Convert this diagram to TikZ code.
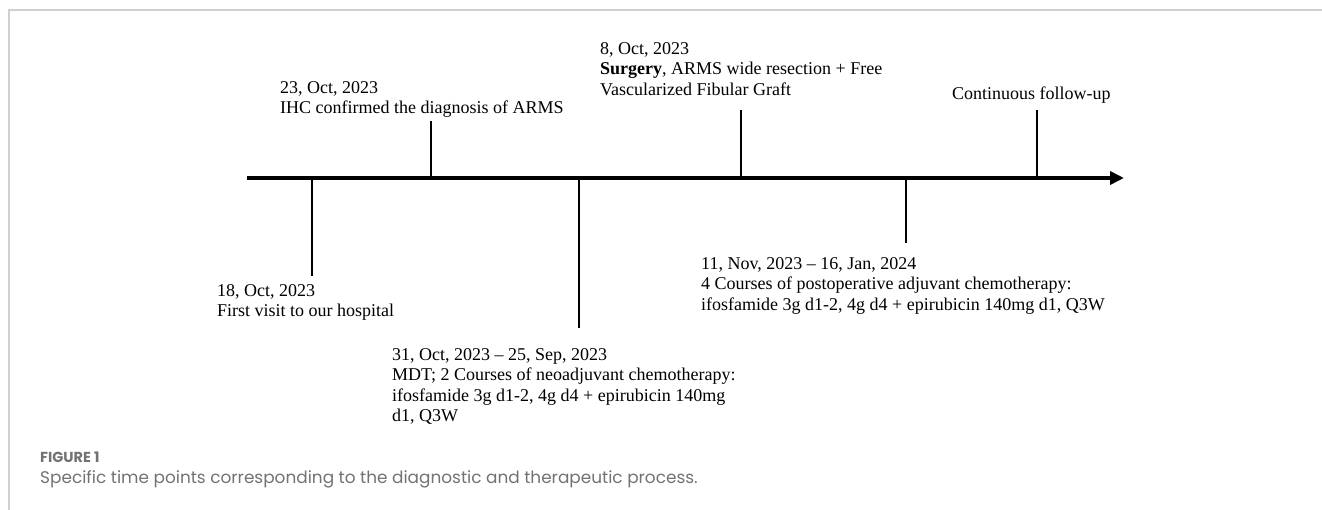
\documentclass[tikz,border=0pt]{standalone}
\usepackage{fontspec}
\setmainfont{Liberation Serif}
\newfontfamily\capfont{Poppins}
\usetikzlibrary{arrows.meta}
\definecolor{framegray}{HTML}{D0D0D0}
\definecolor{capgray}{HTML}{717274}
\tikzset{
  axisline/.style={line width=4pt, -{Triangle[length=14pt,width=13pt]}},
  tickline/.style={line width=2pt},
  lbl/.style={anchor=north west, inner sep=0pt, align=left, font=\fontsize{18}{20.5}\selectfont},
}
\begin{document}
\begin{tikzpicture}[x=1pt,y=-1pt]
\useasboundingbox (0,0) rectangle (1322,510);
% frame
\draw[framegray, line width=1.5pt] (9,510) -- (9,10) -- (1322,10);
% axis
\coordinate (axS) at (247,178);
\coordinate (axE) at (1124,178);
\draw[axisline] (axS) -- (axE);
% tick coordinates
\coordinate (t1a) at (312,178); \coordinate (t1b) at (312,276);
\coordinate (t2a) at (431,178); \coordinate (t2b) at (431,121);
\coordinate (t3a) at (579,178); \coordinate (t3b) at (579,328);
\coordinate (t4a) at (741,178); \coordinate (t4b) at (741,110);
\coordinate (t5a) at (906,178); \coordinate (t5b) at (906,243);
\coordinate (t6a) at (1037,178); \coordinate (t6b) at (1037,110);
\foreach \i in {1,...,6} \draw[tickline] (t\i a) -- (t\i b);
% labels
\node[lbl] (ihc) at (280,81) {23, Oct, 2023\\IHC confirmed the diagnosis of ARMS};
\node[lbl] (surg) at (600,42) {8, Oct, 2023\\\textbf{Surgery}, ARMS wide resection + Free\\Vascularized Fibular Graft};
\node[lbl] (fu) at (952,87) {Continuous follow-up};
\node[lbl] (visit) at (217,284) {18, Oct, 2023\\First visit to our hospital};
\node[lbl] (mdt) at (392,348) {31, Oct, 2023 – 25, Sep, 2023\\MDT; 2 Courses of neoadjuvant chemotherapy:\\ifosfamide 3g d1-2, 4g d4 + epirubicin 140mg\\d1, Q3W};
\node[lbl] (adj) at (701,257) {11, Nov, 2023 – 16, Jan, 2024\\4 Courses of postoperative adjuvant chemotherapy:\\ifosfamide 3g d1-2, 4g d4 + epirubicin 140mg d1, Q3W};
% caption
\node[anchor=west, inner sep=0pt, text=capgray, font=\capfont\bfseries\fontsize{14.5}{16}\selectfont] (fig) at (40,457) {FIGURE 1};
\node[anchor=west, inner sep=0pt, text=capgray, font=\capfont\fontsize{16.9}{19}\selectfont] (cap) at (40,479) {Specific time points corresponding to the diagnostic and therapeutic process.};
\end{tikzpicture}
\end{document}
